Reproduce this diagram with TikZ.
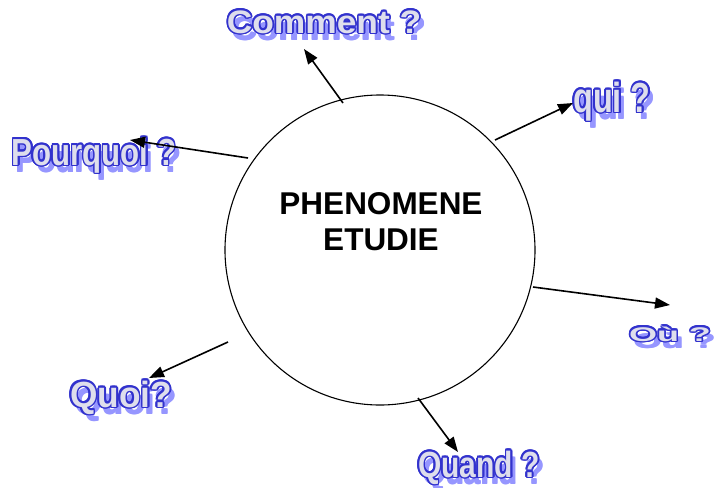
\documentclass[tikz,border=0pt]{standalone}
\usepackage{fontspec}
\setmainfont{Liberation Sans}
\newfontfamily\wafont{Liberation Sans}
\usetikzlibrary{arrows.meta}
\definecolor{outc}{RGB}{50,50,205}
\definecolor{fillc}{RGB}{222,222,236}
\definecolor{shadowc}{RGB}{150,150,255}
\tikzset{
  wabase/.style={anchor=base, inner sep=0pt, font=\wafont\bfseries},
  arr/.style={line width=1.6pt, -{Triangle[length=15pt,width=11pt]}},
  ring/.style={circle, draw, line width=1.1pt, minimum size=310pt, inner sep=0pt},
  title/.style={font=\fontsize{31.5}{36}\selectfont\bfseries, align=center, inner sep=0pt}
}
\newcommand\wa[7]{%
  \foreach \dx/\dy in {0/0,1/0,0/1,1/1}
    \node[wabase, text=shadowc] at (#2+4+\dx,#3+6+\dy) {\fontsize{#4}{#4}\selectfont\scalebox{#5}[#6]{#7}};
  \foreach \dx/\dy in {-1.6/0,1.6/0,0/-1.6,0/1.6,-1.1/-1.1,1.1/-1.1,-1.1/1.1,1.1/1.1,-1.5/-0.6,1.5/0.6,-1.5/0.6,1.5/-0.6,-0.6/-1.5,0.6/1.5,-0.6/1.5,0.6/-1.5}
    \node[wabase, text=outc] at (#2+\dx,#3+\dy) {\fontsize{#4}{#4}\selectfont\scalebox{#5}[#6]{#7}};
  \node[wabase, text=fillc] (#1) at (#2,#3) {\fontsize{#4}{#4}\selectfont\scalebox{#5}[#6]{#7}};
}
\begin{document}
\begin{tikzpicture}[x=1pt,y=-1pt]
\useasboundingbox (0,0) rectangle (716,488);
\node[ring] (c) at (380,250) {};
\node[title] (t) at (381,222) {PHENOMENE\\ETUDIE};

\wa{comment}{324}{33}{26}{1.36}{1.25}{Comment ?}
\wa{pourquoi}{94}{165}{26}{1.2}{1.45}{Pourquoi ?}
\wa{qui}{612}{112}{24}{1.35}{1.75}{qui ?}
\wa{ou}{670}{341}{18}{2.0}{1.1}{Où ?}
\wa{quoi}{121}{407}{28}{1.26}{1.3}{Quoi?}
\wa{quand}{479}{477}{28}{1.07}{1.3}{Quand ?}

\coordinate (sA) at (343,103); \coordinate (eA) at (304,49);
\coordinate (sB) at (495,140); \coordinate (eB) at (573,103);
\coordinate (sC) at (248,158); \coordinate (eC) at (130,140);
\coordinate (sD) at (533,287); \coordinate (eD) at (670,305);
\coordinate (sE) at (228,342); \coordinate (eE) at (149,378);
\coordinate (sF) at (418,398); \coordinate (eF) at (458,452);
\draw[arr] (sA) -- (eA);
\draw[arr] (sB) -- (eB);
\draw[arr] (sC) -- (eC);
\draw[arr] (sD) -- (eD);
\draw[arr] (sE) -- (eE);
\draw[arr] (sF) -- (eF);
\end{tikzpicture}
\end{document}
